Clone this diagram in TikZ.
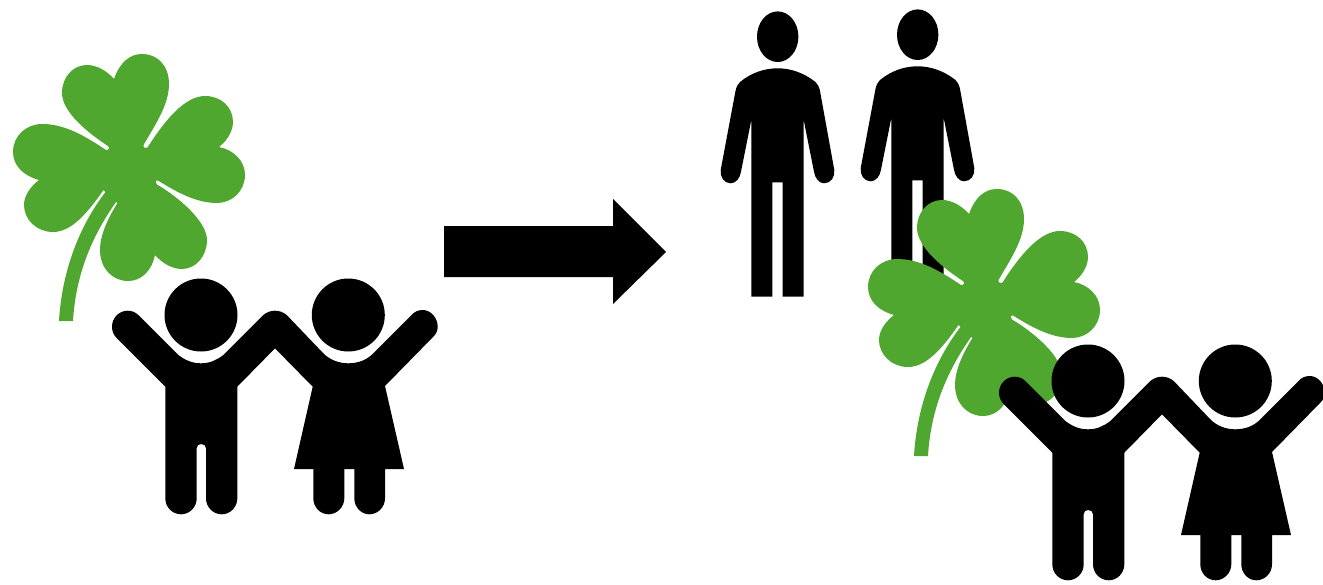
\documentclass[tikz,border=0pt]{standalone}
\usepackage{xcolor}
\definecolor{clovergreen}{RGB}{80,167,48}

\begin{document}
\begin{tikzpicture}[
      x=0.02cm, y=-0.02cm,
      leaf/.style={fill=clovergreen, draw=none},
      figure/.style={fill=black, draw=none},
      clover/.pic={
        \path[leaf] (114,79)
          .. controls (120,62) and (130,54) .. (142,54)
          .. controls (158,54) and (169,66) .. (169,84)
          .. controls (169,105) and (155,125) .. (143.5,145)
          .. controls (143,148) and (146,149) .. (147.5,147.5)
          .. controls (165,120) and (185,96) .. (205,96)
          .. controls (221,96) and (233,107) .. (233,122)
          .. controls (233,131) and (227,141) .. (219,147)
          .. controls (234,150) and (245,161) .. (245,175)
          .. controls (245,191) and (232,203) .. (217,203)
          .. controls (197,203) and (178,193) .. (158,180.5)
          .. controls (155,180) and (155,183) .. (157,184.5)
          .. controls (180,198) and (207,222) .. (207,240)
          .. controls (207,256) and (196,269) .. (182,269)
          .. controls (172,269) and (162,263) .. (155,255)
          .. controls (152,270) and (142,281) .. (128,281)
          .. controls (112,281) and (100,268) .. (100,250)
          .. controls (100,235) and (108,218) .. (117.5,203)
          -- (116,202)
          .. controls (95,232) and (76,270) .. (73,321)
          -- (59,321)
          .. controls (62,270) and (80,225) .. (105.5,192)
          -- (103.5,190)
          .. controls (88,212) and (72,232) .. (53,232)
          .. controls (37,232) and (24,220) .. (24,205)
          .. controls (24,196) and (30,187) .. (39,180)
          .. controls (24,176) and (13,166) .. (13,152)
          .. controls (13,136) and (26,124) .. (42,124)
          .. controls (65,124) and (85,136) .. (106,150)
          .. controls (109,151) and (110,147) .. (108,146)
          .. controls (88,133) and (62,112) .. (62,93)
          .. controls (62,77) and (73,65) .. (87,65)
          .. controls (97,65) and (107,71) .. (114,79) -- cycle;
      },
      children/.pic={
        \path[figure] (201,315) circle (36.5);
        \path[figure] (348.3,315) circle (36.5);
        \path[figure] (138.3,315) -- (178.3,355)
          .. controls (185,360) and (192,363.3) .. (201,363.3)
          .. controls (210,363.3) and (217,360) .. (223.3,355)
          -- (263.3,315)
          .. controls (267,312) and (271,310.7) .. (275,310.7)
          .. controls (279,310.7) and (283,312) .. (286.7,315)
          -- (323.3,353.3)
          .. controls (330,360) and (339,363.3) .. (348.3,363.3)
          .. controls (358,363.3) and (367,360) .. (373.3,353.3)
          -- (411.7,315)
          .. controls (414,312) and (418,310) .. (422.7,310)
          .. controls (431,310) and (437.7,318) .. (437.7,326.7)
          .. controls (437.7,331) and (436,334) .. (433.3,336.7)
          -- (385,386) -- (404,469) -- (385,469) -- (385,498.3)
          .. controls (385,507) and (378,514.3) .. (369.3,514.3)
          .. controls (361,514.3) and (354.3,507) .. (354.3,498.3)
          -- (354.3,469) -- (344.3,469) -- (344.3,498.3)
          .. controls (344.3,507) and (337,514.3) .. (328.7,514.3)
          .. controls (320,514.3) and (313.3,507) .. (313.3,498.3)
          -- (313.3,469) -- (294,469) -- (312.7,386.7)
          -- (275,348.3) -- (237.3,386.7) -- (237.3,498.3)
          .. controls (237.3,507) and (230.3,514.3) .. (221.7,514.3)
          .. controls (213,514.3) and (206,507) .. (206,498.3)
          -- (206,448.3)
          .. controls (206,445.5) and (204,444) .. (201,444)
          .. controls (198.5,444) and (196.7,445.5) .. (196.7,448.3)
          -- (196.7,498.3)
          .. controls (196.7,507) and (189.7,514.3) .. (181,514.3)
          .. controls (172.3,514.3) and (165.3,507) .. (165.3,498.3)
          -- (165.3,386.7) -- (116.7,338)
          .. controls (113.5,335) and (112,331) .. (112,326.7)
          .. controls (112,318) and (119,310.7) .. (127.7,310.7)
          .. controls (132,310.7) and (135.5,312.3) .. (138.3,315) -- cycle;
      },
      adult/.pic={
        \path[figure] (777.7,36.7) ellipse [x radius=20.7, y radius=25.3];
        \path[figure] (777.7,68.3)
          .. controls (791,68.3) and (804,73) .. (815.5,82)
          .. controls (817.5,84) and (819.3,87) .. (820,91)
          -- (834.3,170)
          .. controls (835,177) and (831,183.3) .. (824,183.3)
          .. controls (819,183.3) and (815,178) .. (814,171.7)
          -- (803.7,120) -- (803.7,296.7) -- (782.7,296.7)
          -- (782.7,182.3) -- (772.3,182.3) -- (772.3,296.7)
          -- (751.3,296.7) -- (751.3,120) -- (741,171.7)
          .. controls (740,178) and (736,183.3) .. (730.7,183.3)
          .. controls (724,183.3) and (720,177) .. (720.7,170)
          -- (735.5,91)
          .. controls (736.2,87) and (738,84) .. (740,82)
          .. controls (751,73) and (764,68.3) .. (777.7,68.3) -- cycle;
      },
    ]
    \useasboundingbox (0,0) rectangle (1323,585);

    \pic (leftclover) at (0,0) {clover};
    \pic (leftchildren) at (0,0) {children};

    % block arrow between the two groups
    \path[figure] (444,226) -- (613,226) -- (613,199) -- (666,252)
      -- (613,304) -- (613,277) -- (444,277) -- cycle;

    \pic (firstadult) at (0,0) {adult};
    \pic (secondadult) at (140,-2) {adult};
    \pic (rightclover) at (855,135) {clover};
    \pic (rightchildren) at (887,66) {children};
  \end{tikzpicture}
\end{document}
